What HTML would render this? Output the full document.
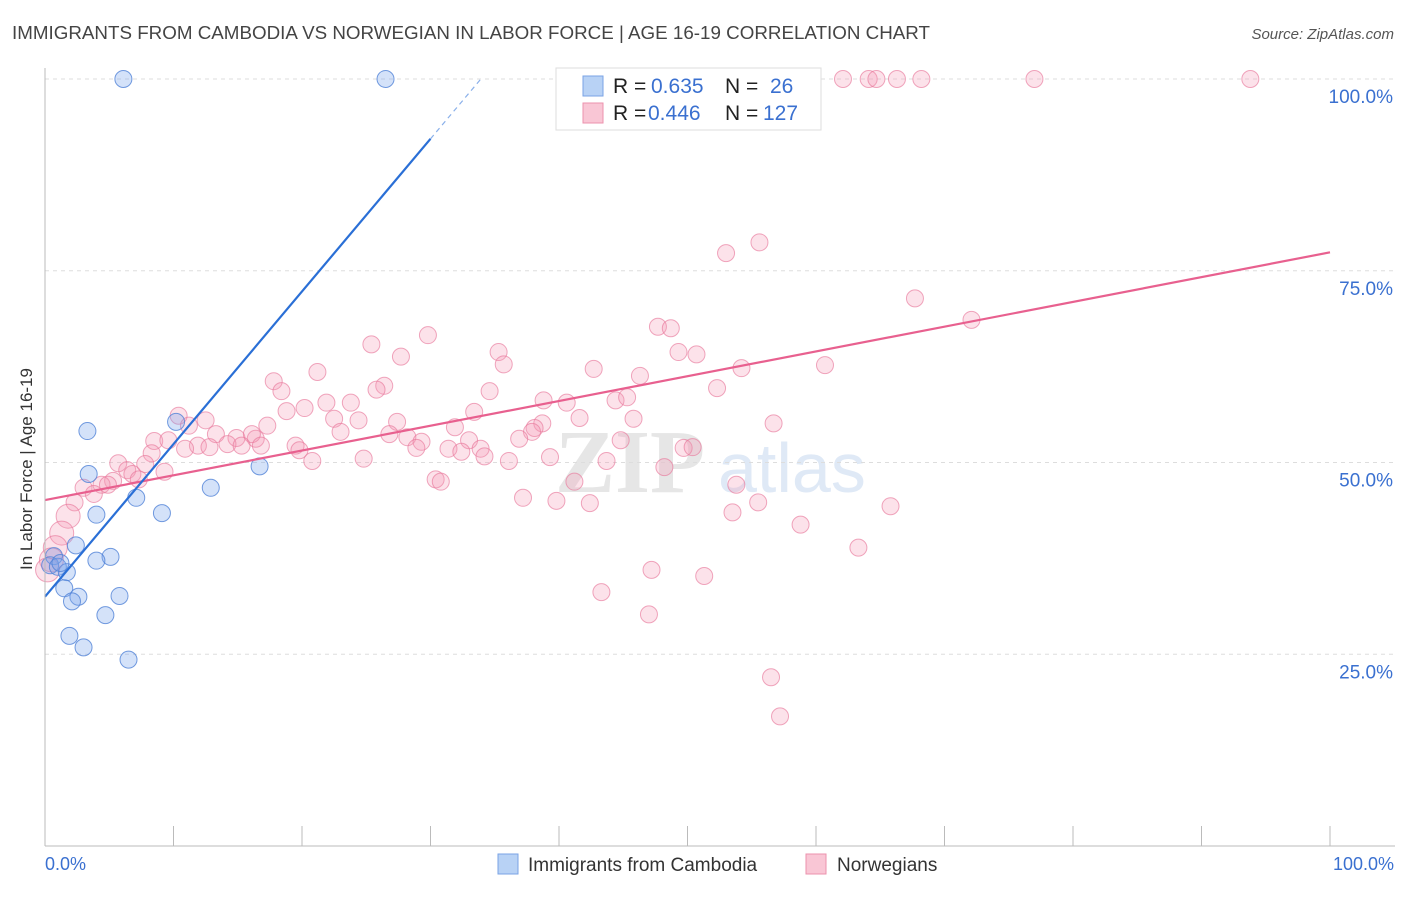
<!DOCTYPE html>
<html><head><meta charset="utf-8"><style>
body{margin:0;background:#fff;font-family:"Liberation Sans",sans-serif}
</style></head><body>
<svg id="c" width="1406" height="892" xmlns="http://www.w3.org/2000/svg">
<text x="12" y="39" font-size="18" fill="#444" textLength="918" lengthAdjust="spacingAndGlyphs">IMMIGRANTS FROM CAMBODIA VS NORWEGIAN IN LABOR FORCE | AGE 16-19 CORRELATION CHART</text>
<text x="1394" y="39" font-size="15" fill="#555" font-style="italic" text-anchor="end">Source: ZipAtlas.com</text>
<text x="555" y="492" font-size="90" fill="#e6e6e6" font-family="Liberation Serif,serif" font-weight="bold">ZIP</text>
<text x="718" y="492" font-size="70" fill="#dfe9f6">atlas</text>
<g id="grid"></g><g id="pts"></g><g id="lines"></g>
<line x1="45" y1="68" x2="45" y2="846" stroke="#bbb"/>
<line x1="45" y1="846" x2="1395" y2="846" stroke="#bbb"/>
<text x="20" y="457" font-size="17" fill="#333" transform="rotate(-90 32 457)" text-anchor="middle">In Labor Force | Age 16-19</text>
<text x="45" y="870" font-size="18" fill="#3a70d0">0.0%</text>
<text x="1394" y="870" font-size="18" fill="#3a70d0" text-anchor="end">100.0%</text>
<g>
<rect x="556" y="68" width="265" height="62" fill="#fff" stroke="#ddd"/>
<rect x="583" y="76" width="20" height="20" fill="#b8d2f5" stroke="#7aa3e5"/>
<rect x="583" y="103" width="20" height="20" fill="#f9c6d5" stroke="#ec92ad"/>
<text x="613" y="93" font-size="21" fill="#222">R = <tspan x="651" fill="#3a70d0">0.635</tspan><tspan x="725">N = </tspan><tspan x="770" fill="#3a70d0">26</tspan></text>
<text x="613" y="120" font-size="21" fill="#222">R = <tspan x="648" fill="#3a70d0">0.446</tspan><tspan x="725">N = </tspan><tspan x="763" fill="#3a70d0">127</tspan></text>
</g>
<g>
<rect x="498" y="854" width="20" height="20" fill="#b8d2f5" stroke="#7aa3e5"/>
<text x="528" y="871" font-size="19" fill="#333">Immigrants from Cambodia</text>
<rect x="806" y="854" width="20" height="20" fill="#f9c6d5" stroke="#ec92ad"/>
<text x="837" y="871" font-size="19" fill="#333">Norwegians</text>
</g>
</svg>
<script>
const yTicks=[100,75,50,25];
const yTickLabels=["100.0%","75.0%","50.0%","25.0%"];
const xTicks=[0,10,20,30,40,50,60,70,80,90,100];
const blueX=[6.1,26.5,3.3,3.4,10.2,16.7,12.9,7.1,4.0,9.1,2.4,5.1,4.0,0.7,0.4,1.0,1.7,1.5,2.6,2.1,5.8,4.7,1.9,3.0,6.5,1.2];
const blueY=[100,100,54.1,48.5,55.3,49.5,46.7,45.4,43.2,43.4,39.2,37.7,37.2,37.8,36.6,36.4,35.7,33.6,32.5,31.9,32.6,30.1,27.4,25.9,24.3,36.9];
const pinkX=[62.1,64.1,64.7,66.3,68.2,77.0,93.8,55.6,53.0,67.7,72.1,29.8,25.4,47.7,48.7,35.3,27.7,35.7,49.3,50.7,21.2,42.7,54.2,60.7,46.3,17.8,26.4,25.8,18.4,34.6,52.3,44.4,45.3,38.8,40.6,21.9,23.8,20.2,18.8,10.4,33.4,12.5,11.2,17.3,22.5,24.4,27.4,38.7,41.6,45.8,56.7,31.9,38.1,37.9,23.0,26.8,8.5,9.6,13.3,14.9,16.4,16.1,19.5,28.2,29.3,33.0,36.9,44.8,11.9,12.8,14.2,15.3,16.8,19.8,28.9,31.4,32.4,33.9,34.2,49.7,50.4,8.3,10.9,20.8,24.8,36.1,39.3,43.7,48.2,5.7,7.8,6.4,6.8,9.3,7.3,5.3,4.4,3.0,4.9,3.8,2.3,30.4,30.8,41.2,53.8,37.2,39.8,42.4,55.5,53.5,65.8,58.8,1.8,1.3,0.8,0.5,0.2,63.3,47.2,51.3,43.3,47.0,56.5,57.2];
const pinkY=[100,100,100,100,100,100,100,78.7,77.3,71.4,68.6,66.6,65.4,67.7,67.5,64.4,63.8,62.8,64.4,64.1,61.8,62.2,62.3,62.7,61.3,60.6,60.0,59.5,59.3,59.3,59.7,58.1,58.5,58.1,57.8,57.8,57.8,57.1,56.7,56.1,56.6,55.5,54.8,54.8,55.7,55.5,55.3,55.1,55.8,55.7,55.1,54.6,54.5,54.0,54.0,53.7,52.8,52.9,53.7,53.2,53.1,53.7,52.2,53.3,52.7,52.9,53.1,52.9,52.2,52.0,52.4,52.2,52.2,51.6,51.9,51.8,51.4,51.8,50.8,51.9,52.0,51.2,51.8,50.2,50.5,50.2,50.7,50.2,49.4,49.9,49.8,49.0,48.5,48.8,47.8,47.6,47.1,46.7,47.1,45.9,44.8,47.8,47.5,47.5,47.1,45.4,45.0,44.7,44.8,43.5,44.3,41.9,43.0,40.8,38.9,37.3,36.0,38.9,36.0,35.2,33.1,30.2,22.0,16.9];
const blueLine=[32.5,1.99]; // intercept, slope
const pinkLine=[45.1,0.323];
const NS="http://www.w3.org/2000/svg";
const sx=v=>45+v*12.85, sy=v=>846-v*7.67;
function mk(t,a,p){const e=document.createElementNS(NS,t);for(const k in a)e.setAttribute(k,a[k]);p.appendChild(e);return e;}
const grid=document.getElementById('grid'),pts=document.getElementById('pts'),lines=document.getElementById('lines');
yTicks.forEach((v,i)=>{
 const l=mk('line',{x1:45,x2:1395,y1:sy(v),y2:sy(v),stroke:'#ddd','stroke-dasharray':'4 4'},grid);
 
 
 const t=mk('text',{x:1393,y:sy(v)+24,'font-size':19,fill:'#3a70d0','text-anchor':'end'},grid);
 t.textContent=yTickLabels[i];
 
 
});
xTicks.forEach(v=>{
 const l=mk('line',{x1:sx(v),x2:sx(v),y1:826,y2:846,stroke:'#bbb'},grid);
 
 
});
pinkX.forEach((x,i)=>{
 const big=x<2&&pinkY[i]<45;
 const c=mk('circle',{cx:sx(x),cy:sy(pinkY[i]),r:big?12:8.5,fill:'rgba(244,150,178,0.28)',stroke:'rgba(232,120,155,0.65)','stroke-width':1},pts);
 
 
});
blueX.forEach((x,i)=>{
 const c=mk('circle',{cx:sx(x),cy:sy(blueY[i]),r:8.5,fill:'rgba(120,165,235,0.32)',stroke:'rgba(80,130,215,0.8)','stroke-width':1},pts);
 
 
});
const pl=mk('line',{x1:sx(0),y1:sy(pinkLine[0]),x2:sx(100),y2:sy(pinkLine[0]+100*pinkLine[1]),stroke:'#e8608f','stroke-width':2.2},lines);


const bEnd=30, bDash=(100-blueLine[0])/blueLine[1];
const bl=mk('line',{x1:sx(0),y1:sy(blueLine[0]),x2:sx(bEnd),y2:sy(blueLine[0]+bEnd*blueLine[1]),stroke:'#2a6fd6','stroke-width':2.2},lines);


const bd=mk('line',{x1:sx(bEnd),y1:sy(blueLine[0]+bEnd*blueLine[1]),x2:sx(bDash),y2:sy(100),stroke:'#8ab0ea','stroke-width':1.2,'stroke-dasharray':'5 4'},lines);


</script>
</body></html>
